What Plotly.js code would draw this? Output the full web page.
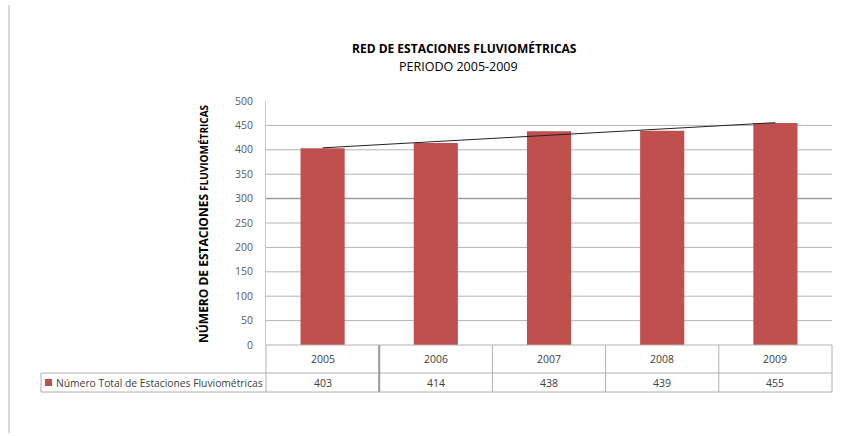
<!DOCTYPE html>
<html>
<head>
<meta charset="utf-8">
<script src="https://cdn.plot.ly/plotly-3.0.1.min.js"></script>
<style>html,body{margin:0;padding:0;background:#fff;}#chart{width:843px;height:436px;}</style>
</head>
<body>
<div id="chart"></div>
<script>
const years = ['2005', '2006', '2007', '2008', '2009'];
const stations = [403, 414, 438, 439, 455];
const yTicks = [0, 50, 100, 150, 200, 250, 300, 350, 400, 450, 500];
const seriesName = 'Número Total de Estaciones Fluviométricas';
const chartTitle = 'RED DE ESTACIONES FLUVIOMÉTRICAS';
const chartSubtitle = 'PERIODO 2005-2009';

// linear trendline (least squares) derived from the data
const n = stations.length;
const idx = stations.map((_, i) => i);
const mx = idx.reduce((a, b) => a + b, 0) / n;
const my = stations.reduce((a, b) => a + b, 0) / n;
let sxy = 0, sxx = 0;
idx.forEach(i => { sxy += (i - mx) * (stations[i] - my); sxx += (i - mx) * (i - mx); });
const slope = sxy / sxx;
const trend = idx.map(i => my + slope * (i - mx));

// layout geometry (pixels)
const W = 843, H = 436;
const L = 266, R = 832, T = 101, B = 345;
const px = x => (x - L) / (R - L);
const py = y => (B - y) / (B - T);

const FONT = 'Open Sans, Liberation Sans, sans-serif';
const gridCol = '#b3b3b3';
const borderCol = '#b0b0b0';

const shapes = [];
// gridlines
yTicks.filter(v => v > 0 && v < 500).forEach(v => {
  shapes.push({type: 'line', xref: 'paper', yref: 'y', x0: 0, x1: 1, y0: v, y1: v,
    line: {color: v === 300 ? '#9a9a9a' : gridCol, width: v === 300 ? 1.5 : 1}, layer: 'below'});
});
function hline(x0, x1, y, col, w) {
  shapes.push({type: 'line', xref: 'paper', yref: 'paper', x0: px(x0), x1: px(x1), y0: py(y), y1: py(y),
    line: {color: col || borderCol, width: w || 1}});
}
function vline(x, y0, y1, col, w) {
  shapes.push({type: 'line', xref: 'paper', yref: 'paper', x0: px(x), x1: px(x), y0: py(y0), y1: py(y1),
    line: {color: col || borderCol, width: w || 1}});
}
// table
const rowMid = 373, rowBot = 392;
hline(L, R, B);
hline(41, R, rowMid);
hline(41, R, rowBot);
vline(41, rowMid, rowBot);
for (let i = 0; i <= years.length; i++) {
  const x = L + i * (R - L) / years.length;
  vline(x, B, rowBot, i === 1 ? '#999999' : borderCol, i === 1 ? 2 : 1);
}
// page left border
vline(9, 5, 433, '#b0b0b0', 1);
// legend swatch
shapes.push({type: 'rect', xref: 'paper', yref: 'paper', x0: px(45), x1: px(52), y0: py(386), y1: py(379),
  fillcolor: '#C0504D', line: {width: 0}});

const annotations = [];
years.forEach((yr, i) => {
  const cx = (i + 0.5) / years.length;
  annotations.push({xref: 'paper', yref: 'paper', x: cx, y: py(359), xanchor: 'center', yanchor: 'middle',
    text: yr, showarrow: false, font: {family: FONT, size: 10.5, color: '#404040'}});
  annotations.push({xref: 'paper', yref: 'paper', x: cx, y: py(382.5), xanchor: 'center', yanchor: 'middle',
    text: String(stations[i]), showarrow: false, font: {family: FONT, size: 10.5, color: '#404040'}});
});
annotations.push({xref: 'paper', yref: 'paper', x: px(54), y: py(382.5), xanchor: 'left', yanchor: 'middle',
  text: seriesName, showarrow: false, font: {family: FONT, size: 10.3, color: '#404040'}});
// titles
annotations.push({xref: 'paper', yref: 'paper', x: px(464), y: py(48), xanchor: 'center', yanchor: 'middle',
  text: '<b>' + chartTitle + '</b>', showarrow: false, font: {family: FONT, size: 12, color: '#000'}});
annotations.push({xref: 'paper', yref: 'paper', x: px(458), y: py(66), xanchor: 'center', yanchor: 'middle',
  text: chartSubtitle, showarrow: false, font: {family: FONT, size: 12.5, color: '#000'}});
// y axis title
annotations.push({xref: 'paper', yref: 'paper', x: px(203), y: py(224), xanchor: 'center', yanchor: 'middle',
  textangle: -90,
  text: '<b>NÚMERO DE ESTACIONES </b><span style="font-size:10px"><b>FLUVIOMÉTRICAS</b></span>',
  showarrow: false, font: {family: FONT, size: 12, color: '#000'}});

const data = [
  {type: 'bar', x: years, y: stations, name: seriesName, marker: {color: '#C0504D'}, hoverinfo: 'skip'},
  {type: 'scatter', mode: 'lines', x: years, y: trend, line: {color: '#222', width: 1}, hoverinfo: 'skip'}
];

const layout = {
  width: W, height: H,
  margin: {l: L, r: W - R, t: T, b: H - B, pad: 0},
  paper_bgcolor: '#fff', plot_bgcolor: '#fff',
  showlegend: false,
  bargap: 0.61,
  xaxis: {type: 'category', showticklabels: false, showgrid: false, zeroline: false, showline: false,
    ticks: '', range: [-0.5, 4.5], fixedrange: true},
  yaxis: {range: [0, 500], tickvals: yTicks, ticktext: yTicks.map(String), showgrid: false, zeroline: false,
    showline: true, linecolor: '#c8c8c8', linewidth: 1, ticks: '', ticklabelstandoff: 10,
    tickfont: {family: FONT, size: 10.5, color: '#595959'}, fixedrange: true},
  shapes: shapes,
  annotations: annotations
};

Plotly.newPlot('chart', data, layout, {displayModeBar: false, staticPlot: true});
</script>
</body>
</html>
